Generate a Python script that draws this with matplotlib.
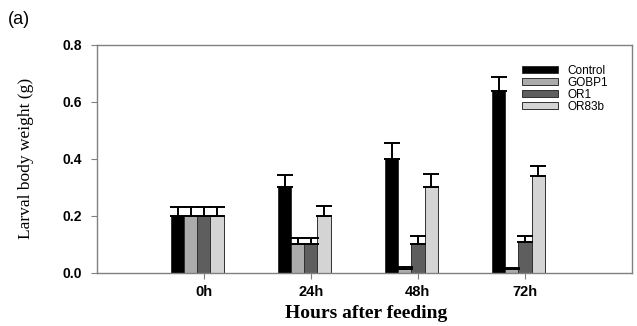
#!/usr/bin/env python3
# -*- coding: utf-8 -*-
"""
Grouped bar chart of larval body weight after feeding.
"""

import matplotlib
matplotlib.use('Agg')
import matplotlib.pyplot as plt
import numpy as np

times = ['0h', '24h', '48h', '72h']
groups = ['Control', 'GOBP1', 'OR1', 'OR83b']
colors = ['#000000', '#ababab', '#5e5e5e', '#d4d4d4']

control = [0.20, 0.30, 0.40, 0.64]
control_err = [0.030, 0.042, 0.055, 0.047]
gobp1 = [0.20, 0.10, 0.015, 0.015]
gobp1_err = [0.030, 0.024, 0.005, 0.003]
or1 = [0.20, 0.10, 0.10, 0.11]
or1_err = [0.030, 0.024, 0.028, 0.018]
or83b = [0.20, 0.20, 0.30, 0.34]
or83b_err = [0.030, 0.034, 0.048, 0.034]

values = [control, gobp1, or1, or83b]
errors = [control_err, gobp1_err, or1_err, or83b_err]


def plot(file_out):
    fig = plt.figure(figsize=(6.37, 3.26), dpi=100)
    ax = fig.add_axes([0.152, 0.163, 0.840, 0.699])

    x = np.arange(1, len(times) + 1)
    width = 0.122
    shift = -0.06
    for k, (vals, errs) in enumerate(zip(values, errors)):
        pos = x + shift + (k - 1.5) * width
        ax.bar(pos, vals, width, color=colors[k], edgecolor='#303030',
               linewidth=0.7, label=groups[k], zorder=2)
        ax.errorbar(pos, vals, yerr=[np.zeros(len(vals)), errs], fmt='none',
                    ecolor='black', elinewidth=1.4, capsize=5.5,
                    capthick=1.4, zorder=3)

    ax.set_xlim(0, 5)
    ax.set_ylim(0, 0.8)
    ax.set_yticks([0.0, 0.2, 0.4, 0.6, 0.8])
    ax.set_yticklabels(['%.1f' % v for v in [0.0, 0.2, 0.4, 0.6, 0.8]],
                       fontfamily='Liberation Sans', fontweight='bold',
                       fontsize=10)
    ax.set_xticks(x)
    ax.set_xticklabels(times, fontfamily='Liberation Sans',
                       fontweight='bold', fontsize=10.5)
    ax.tick_params(axis='y', direction='out', length=4, width=0.8,
                   color='#808080', pad=7)
    ax.tick_params(axis='x', direction='out', length=4, width=0.8,
                   color='#808080', pad=5)
    for spine in ax.spines.values():
        spine.set_color('#808080')
        spine.set_linewidth(1.0)

    ax.set_ylabel('Larval body weight (g)', fontfamily='Liberation Serif',
                  fontsize=12.5)
    ax.yaxis.set_label_coords(-0.117, 0.5)
    ax.set_xlabel('Hours after feeding', fontfamily='Liberation Serif',
                  fontweight='bold', fontsize=14, va='center')
    ax.xaxis.set_label_coords(0.503, -0.178)

    leg = ax.legend(loc='upper left', bbox_to_anchor=(0.785, 0.935),
                    frameon=False, handlelength=3.1,
                    handleheight=0.55, labelspacing=0.0, handletextpad=0.8,
                    borderaxespad=0,
                    prop={'family': 'Liberation Sans', 'size': 8.5})
    for h in leg.legend_handles:
        h.set_edgecolor('#303030')

    fig.text(0.013, 0.965, '(a)', fontfamily='Liberation Sans', fontsize=13,
             va='top', ha='left')

    fig.savefig(file_out)
    plt.close(fig)


if __name__ == '__main__':
    plot('out.png')
